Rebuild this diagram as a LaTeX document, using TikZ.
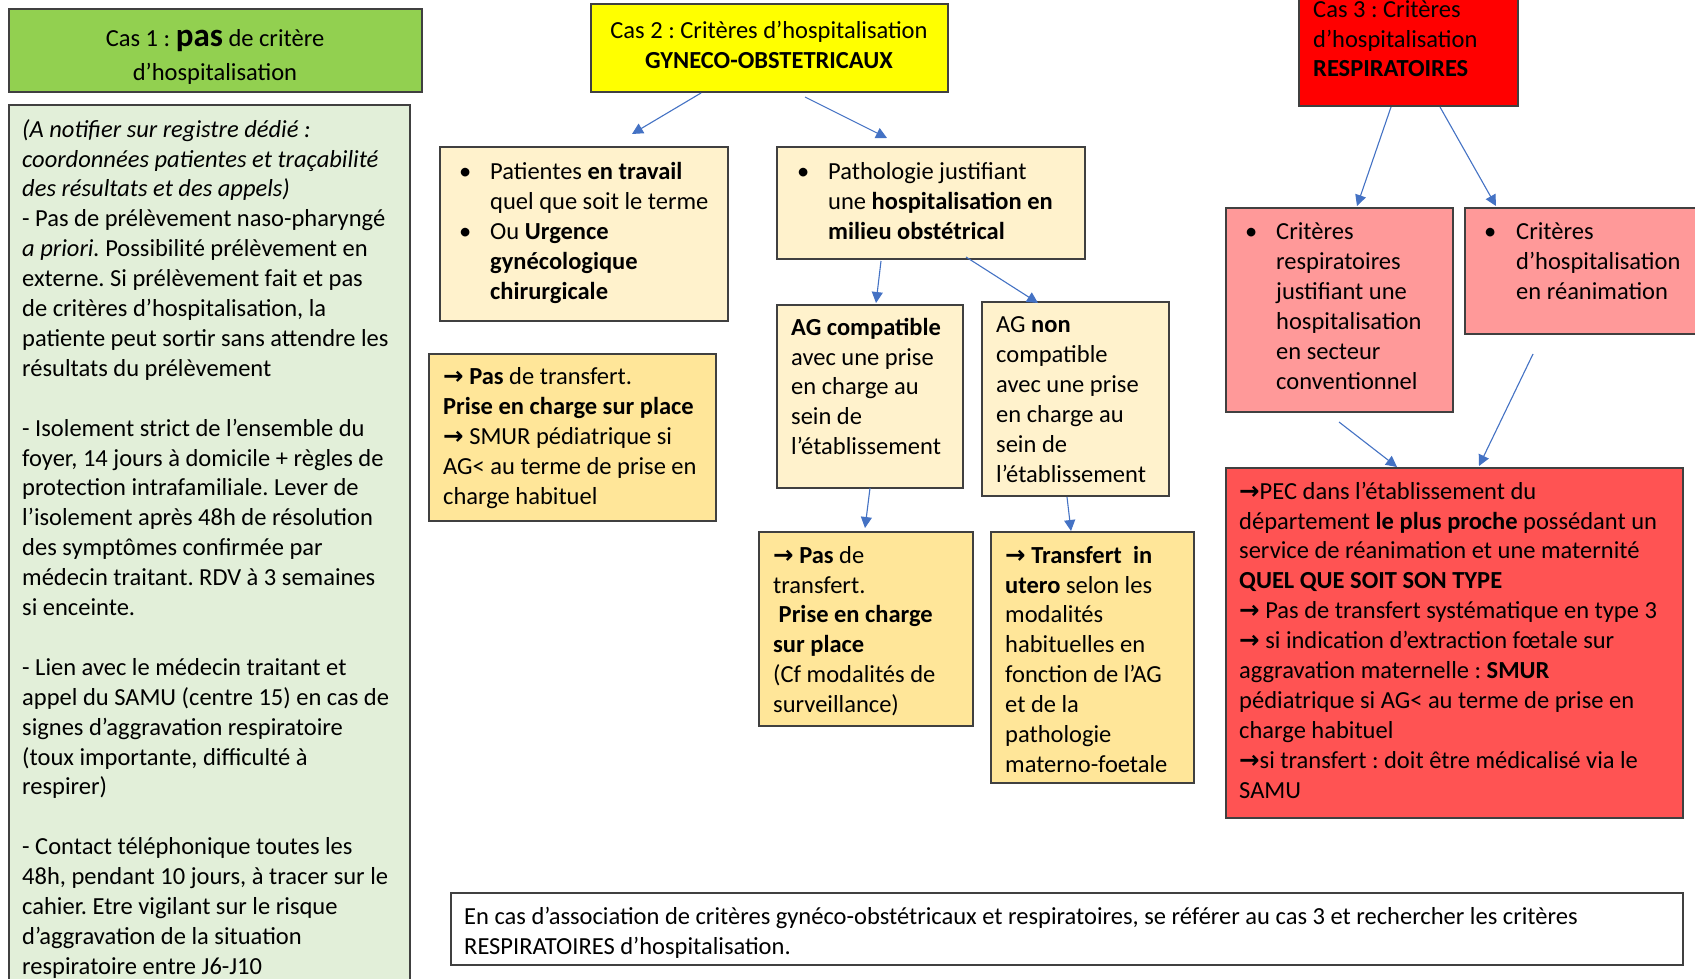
\documentclass[tikz,border=0pt]{standalone}
\usepackage{fontspec}
\setmainfont{Carlito}
\newfontfamily\arrfont{DejaVu Sans}
\usetikzlibrary{arrows.meta,calc}
\newcommand{\ra}{{\arrfont\bfseries →}}
\newcommand{\fs}{\fontsize{24.5}{29.9}\selectfont}
\newcommand{\bul}{\llap{\makebox[31pt][l]{•}}}
\definecolor{cgreen}{HTML}{92D050}
\definecolor{clgreen}{HTML}{E2EFD9}
\definecolor{cyellow}{HTML}{FFFF00}
\definecolor{cred}{HTML}{FF0000}
\definecolor{ccream}{HTML}{FFF2CC}
\definecolor{cgold}{HTML}{FFE699}
\definecolor{cpink}{HTML}{FF9999}
\definecolor{cpec}{HTML}{FF5353}
\definecolor{bordergray}{HTML}{404040}
\definecolor{arrowblue}{HTML}{4472C4}
\frenchspacing
\begin{document}
\begin{tikzpicture}[x=1pt,y=-1pt,
  box/.style={draw=bordergray, line width=1.2pt, anchor=north west, inner sep=0pt, outer sep=0pt},
  txt/.style={anchor=north west, inner sep=0pt, align=left, font=\fs, text=black},
  arr/.style={draw=arrowblue, line width=1.1pt, -{Triangle[length=11pt,width=11pt]}}]
\path[use as bounding box, clip] (0,0) rectangle (1695,978);
\fill[white] (0,0) rectangle (1695,978);

% boxes
\node[box, fill=cgreen, minimum width=413pt, minimum height=83pt] (c1h) at (9,9) {};
\node[box, fill=clgreen, minimum width=401pt, minimum height=895pt] (c1b) at (9,105) {};
\node[box, fill=cyellow, minimum width=357pt, minimum height=88pt] (c2h) at (591,4) {};
\node[box, fill=cred, minimum width=219pt, minimum height=116pt] (c3h) at (1299,-10) {};
\node[box, fill=ccream, minimum width=288pt, minimum height=174pt] (pat) at (440,147) {};
\node[box, fill=ccream, minimum width=308pt, minimum height=112pt] (path) at (777,147) {};
\node[box, fill=cgold, minimum width=287pt, minimum height=167pt] (orng) at (429,354) {};
\node[box, fill=ccream, minimum width=186pt, minimum height=183pt] (agc) at (777,305) {};
\node[box, fill=ccream, minimum width=187pt, minimum height=194pt] (agn) at (982,302) {};
\node[box, fill=cgold, minimum width=214pt, minimum height=194pt] (pasb) at (759,532) {};
\node[box, fill=cgold, minimum width=203pt, minimum height=251pt] (tr) at (991,532) {};
\node[box, fill=cpink, minimum width=227pt, minimum height=204pt] (cr) at (1226,208) {};
\node[box, fill=cpink, minimum width=245pt, minimum height=126pt] (crea) at (1465,208) {};
\node[box, fill=cpec, minimum width=457pt, minimum height=350pt] (pec) at (1226,468) {};
\node[box, fill=white, minimum width=1232pt, minimum height=72pt] (note) at (451,893) {};

% texts
\node[anchor=center, inner sep=0pt, align=center, font=\fontsize{24.5}{33.5}\selectfont] (t1h) at (215,57)
  {Cas 1 : {\fontsize{33}{33.5}\selectfont\bfseries pas} de critère\\d’hospitalisation};
\node[txt] (t1b) at (22,116) {\strut\itshape (A notifier sur registre dédié :\\
\itshape coordonnées patientes et traçabilité\\
\itshape des résultats et des appels)\\
- Pas de prélèvement naso-pharyngé\\
\textit{a priori.} Possibilité prélèvement en\\
externe. Si prélèvement fait et pas\\
de critères d’hospitalisation, la\\
patiente peut sortir sans attendre les\\
résultats du prélèvement\\
\strut\\
- Isolement strict de l’ensemble du\\
foyer, 14 jours à domicile + règles de\\
protection intrafamiliale. Lever de\\
l’isolement après 48h de résolution\\
des symptômes confirmée par\\
médecin traitant. RDV à 3 semaines\\
si enceinte.\\
\strut\\
- Lien avec le médecin traitant et\\
appel du SAMU (centre 15) en cas de\\
signes d’aggravation respiratoire\\
(toux importante, difficulté à\\
respirer)\\
\strut\\
- Contact téléphonique toutes les\\
48h, pendant 10 jours, à tracer sur le\\
cahier. Etre vigilant sur le risque\\
d’aggravation de la situation\\
respiratoire entre J6-J10};
\node[anchor=center, inner sep=0pt, align=center, font=\fs] (t2h) at (769,45)
  {Cas 2 : Critères d’hospitalisation\\\textbf{GYNECO-OBSTETRICAUX}};
\node[txt] (t3h) at (1313,-4) {\strut Cas 3 : Critères\\d’hospitalisation\\\textbf{RESPIRATOIRES}};
\node[txt] (tpat) at (490,158.5) {\strut\bul Patientes \textbf{en travail}\\
quel que soit le terme\\
\bul Ou \textbf{Urgence}\\
\textbf{gynécologique}\\
\textbf{chirurgicale}};
\node[txt] (tpath) at (828,158.5) {\strut\bul Pathologie justifiant\\
une \textbf{hospitalisation en}\\
\textbf{milieu obstétrical}};
\node[txt] (torng) at (443,363.5) {\strut\ra{} \textbf{Pas} de transfert.\\
\textbf{Prise en charge sur place}\\
\ra{} SMUR pédiatrique si\\
AG< au terme de prise en\\
charge habituel};
\node[txt] (tagc) at (791,314) {\strut\textbf{AG compatible}\\
avec une prise\\
en charge au\\
sein de\\
l’établissement};
\node[txt] (tagn) at (996,311.5) {\strut AG \textbf{non}\\
compatible\\
avec une prise\\
en charge au\\
sein de\\
l’établissement};
\node[txt] (tpasb) at (773,542) {\strut\ra{} \textbf{Pas} de\\
transfert.\\
\ \textbf{Prise en charge}\\
\textbf{sur place}\\
(Cf modalités de\\
surveillance)};
\node[txt] (ttr) at (1005,542) {\strut\ra{} \textbf{Transfert\ \ in}\\
\textbf{utero} selon les\\
modalités\\
habituelles en\\
fonction de l’AG\\
et de la\\
pathologie\\
materno-foetale};
\node[txt] (tcr) at (1276,218.5) {\strut\bul Critères\\
respiratoires\\
justifiant une\\
hospitalisation\\
en secteur\\
conventionnel};
\node[txt] (tcrea) at (1516,218.5) {\strut\llap{\makebox[32pt][l]{•}}Critères\\
d’hospitalisation\\
en réanimation};
\node[txt] (tpec) at (1239,478) {\strut\ra PEC dans l’établissement du\\
département \textbf{le plus proche} possédant un\\
service de réanimation et une maternité\\
\textbf{QUEL QUE SOIT SON TYPE}\\
\ra{} Pas de transfert systématique en type 3\\
\ra{} si indication d’extraction fœtale sur\\
aggravation maternelle : \textbf{SMUR}\\
pédiatrique si AG< au terme de prise en\\
charge habituel\\
\ra si transfert : doit être médicalisé via le\\
SAMU};
\node[txt] (tnote) at (464,903.5) {\strut En cas d’association de critères gynéco-obstétricaux et respiratoires, se référer au cas 3 et rechercher les critères\\
RESPIRATOIRES d’hospitalisation.};

% arrows
\draw[arr] ($(c2h.south west)+(110,1)$) -- ($(pat.north west)+(192,-13)$);
\draw[arr] ($(c2h.south west)+(214,5)$) -- ($(path.north west)+(110,-9)$);
\draw[arr] ($(path.south west)+(104,2)$) -- ($(agc.north west)+(99,-2)$);
\draw[arr] ($(path.south west)+(189,-2)$) -- ($(agn.north west)+(56,1)$);
\draw[arr] ($(agc.south west)+(93,0)$) -- ($(pasb.north west)+(106,-4)$);
\draw[arr] ($(agn.south west)+(85,1)$) -- ($(tr.north west)+(80,-1)$);
\draw[arr] ($(c3h.south west)+(92,1)$) -- ($(cr.north west)+(131,-2)$);
\draw[arr] ($(c3h.south west)+(141,1)$) -- ($(crea.north west)+(31,-2)$);
\draw[arr] ($(cr.south west)+(113,10)$) -- ($(pec.north west)+(171,-1)$);
\draw[arr] ($(crea.south west)+(68,20)$) -- ($(pec.north west)+(253,-2)$);
\end{tikzpicture}
\end{document}
